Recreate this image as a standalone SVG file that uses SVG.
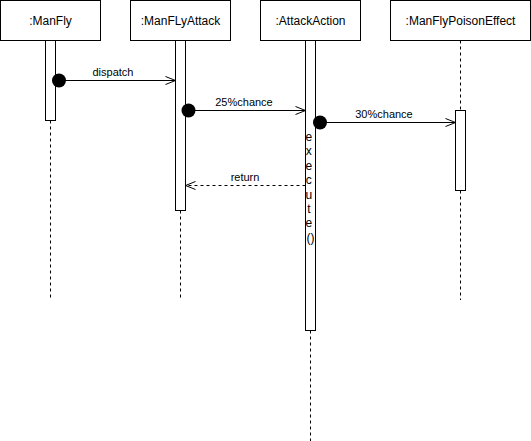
<svg xmlns="http://www.w3.org/2000/svg" width="531" height="441" viewBox="0 0 531 441">
  <defs>
    <style>
      .box { fill: #ffffff; stroke: #000000; stroke-width: 1; }
      .life { fill: none; stroke: #000000; stroke-width: 1; stroke-dasharray: 3 3; }
      .msg { fill: none; stroke: #000000; stroke-width: 1; }
      .ret { fill: none; stroke: #000000; stroke-width: 1; stroke-dasharray: 3 3; }
      .lbl { font-family: "Liberation Sans", Arial, sans-serif; font-size: 12px; fill: #000000; text-anchor: middle; }
      .mlbl { font-family: "Liberation Sans", Arial, sans-serif; font-size: 11px; fill: #000000; text-anchor: middle; }
    </style>
    <marker id="open" viewBox="0 0 12 10" refX="11" refY="5" markerWidth="12" markerHeight="10" markerUnits="userSpaceOnUse" orient="auto">
      <path d="M1,1 L11,5 L1,9" fill="none" stroke="#000000" stroke-width="1"/>
    </marker>
  </defs>

  <!-- lifeline participants -->
  <g id="manfly">
    <rect class="box" x="0.5" y="0.5" width="100" height="40"/>
    <text class="lbl" x="50.5" y="24.5">:ManFly</text>
    <line class="life" x1="50.5" y1="120.5" x2="50.5" y2="300"/>
    <rect class="box" x="45.5" y="40.5" width="10" height="80"/>
  </g>

  <g id="manflyattack">
    <rect class="box" x="130.5" y="0.5" width="100" height="40"/>
    <text class="lbl" x="180.5" y="24.5">:ManFLyAttack</text>
    <line class="life" x1="180.5" y1="210.5" x2="180.5" y2="300"/>
    <rect class="box" x="175.5" y="40.5" width="10" height="170"/>
  </g>

  <g id="attackaction">
    <rect class="box" x="260.5" y="0.5" width="100" height="40"/>
    <text class="lbl" x="310.5" y="24.5">:AttackAction</text>
    <line class="life" x1="310.5" y1="330.5" x2="310.5" y2="441"/>
    <rect class="box" x="305.5" y="40.5" width="10" height="290"/>
    <text class="lbl" x="310.5" y="141">
      <tspan x="310.5" dy="0">e</tspan>
      <tspan x="310.5" dy="14.4">x</tspan>
      <tspan x="310.5" dy="14.4">e</tspan>
      <tspan x="310.5" dy="14.4">c</tspan>
      <tspan x="310.5" dy="14.4">u</tspan>
      <tspan x="310.5" dy="14.4">t</tspan>
      <tspan x="310.5" dy="14.4">e</tspan>
      <tspan x="310.5" dy="14.4">()</tspan>
    </text>
  </g>

  <g id="manflypoisoneffect">
    <rect class="box" x="390.5" y="0.5" width="140" height="40"/>
    <text class="lbl" x="460.5" y="24.5">:ManFlyPoisonEffect</text>
    <line class="life" x1="460.5" y1="40.5" x2="460.5" y2="110.5"/>
    <line class="life" x1="460.5" y1="190.5" x2="460.5" y2="300"/>
    <rect class="box" x="455.5" y="110.5" width="10" height="80"/>
  </g>

  <!-- messages -->
  <g id="connectors">
    <circle cx="59" cy="80.5" r="7" fill="#000000"/>
    <line class="msg" x1="59" y1="80.5" x2="175.5" y2="80.5" marker-end="url(#open)"/>
    <text class="mlbl" x="113" y="76">dispatch</text>

    <circle cx="188.5" cy="110.5" r="7" fill="#000000"/>
    <line class="msg" x1="188.5" y1="110.5" x2="305.5" y2="110.5" marker-end="url(#open)"/>
    <text class="mlbl" x="244" y="106">25%chance</text>

    <circle cx="320" cy="122.5" r="7" fill="#000000"/>
    <line class="msg" x1="320" y1="122.5" x2="455.5" y2="122.5" marker-end="url(#open)"/>
    <text class="mlbl" x="384" y="118">30%chance</text>

    <line class="ret" x1="305.5" y1="185.5" x2="185.5" y2="185.5" marker-end="url(#open)"/>
    <text class="mlbl" x="245" y="181">return</text>
  </g>
</svg>
